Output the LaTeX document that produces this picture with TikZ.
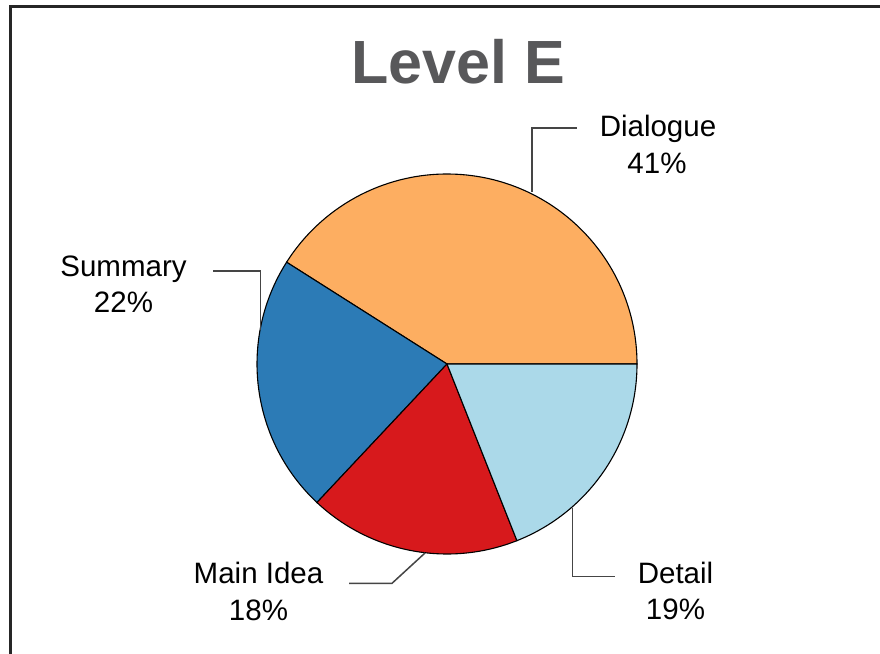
\documentclass[tikz,border=0pt]{standalone}
\usepackage{fontspec}
\setmainfont{Liberation Sans}
\definecolor{cDlg}{HTML}{FDAE61}
\definecolor{cSum}{HTML}{2C7BB6}
\definecolor{cMain}{HTML}{D7191C}
\definecolor{cDet}{HTML}{ABD9E9}
\definecolor{cTitle}{HTML}{58585A}
\definecolor{cLead}{HTML}{454545}
\tikzset{
  lbl/.style={anchor=base, inner sep=0pt, font=\fontsize{29.5}{36}\selectfont},
  slice/.style={draw=black, line width=1.1pt},
  leader/.style={draw=cLead, line width=1.5pt},
}
\begin{document}
\begin{tikzpicture}[x=1pt,y=-1pt]
\useasboundingbox (0,0) rectangle (880,653);
\fill[white] (0,0) rectangle (880,653);
% frame
\begin{scope}
\clip (0,0) rectangle (880,653);
\draw[line width=3pt, color=black!85] (10,670) -- (10,6) -- (900,6);
\end{scope}
% title
\node[anchor=base, inner sep=0pt, text=cTitle, font=\bfseries\fontsize{61}{70}\selectfont] (title) at (458,83) {Level E};
% pie
\begin{scope}[shift={(447,364)}, yscale=-1]
  \coordinate (ctr) at (0,0);
  \filldraw[slice, fill=cDlg] (ctr) -- (0:190) arc[start angle=0, end angle=147.6, radius=190] -- cycle;
  \filldraw[slice, fill=cSum] (ctr) -- (147.6:190) arc[start angle=147.6, end angle=226.8, radius=190] -- cycle;
  \filldraw[slice, fill=cMain] (ctr) -- (226.8:190) arc[start angle=226.8, end angle=291.6, radius=190] -- cycle;
  \filldraw[slice, fill=cDet] (ctr) -- (291.6:190) arc[start angle=291.6, end angle=360, radius=190] -- cycle;
\end{scope}
% labels
\node[lbl] (dlg) at (658,136) {Dialogue};
\node[lbl] (dlgp) at (657,173) {41\%};
\node[lbl] (sum) at (123.5,276) {Summary};
\node[lbl] (sump) at (123.5,312.5) {22\%};
\node[lbl] (mi) at (258.5,583) {Main Idea};
\node[lbl] (mip) at (258.5,620) {18\%};
\node[lbl] (det) at (675.5,583) {Detail};
\node[lbl] (detp) at (675.5,619.5) {19\%};
% leader coordinates
\coordinate (dlgA) at (532,192);
\coordinate (dlgB) at (532,128);
\coordinate (dlgC) at (577,128);
\coordinate (sumA) at (260.5,330);
\coordinate (sumB) at (260.5,271);
\coordinate (sumC) at (213,271);
\coordinate (miA) at (425,553);
\coordinate (miB) at (392,583.3);
\coordinate (miC) at (349,583.3);
\coordinate (detA) at (572.3,508);
\coordinate (detB) at (572.3,576.7);
\coordinate (detC) at (615,576.7);
\draw[leader] (dlgA) -- (dlgB) -- (dlgC);
\draw[leader] (sumA) -- (sumB) -- (sumC);
\draw[leader] (miA) -- (miB) -- (miC);
\draw[leader] (detA) -- (detB) -- (detC);
\end{tikzpicture}
\end{document}
